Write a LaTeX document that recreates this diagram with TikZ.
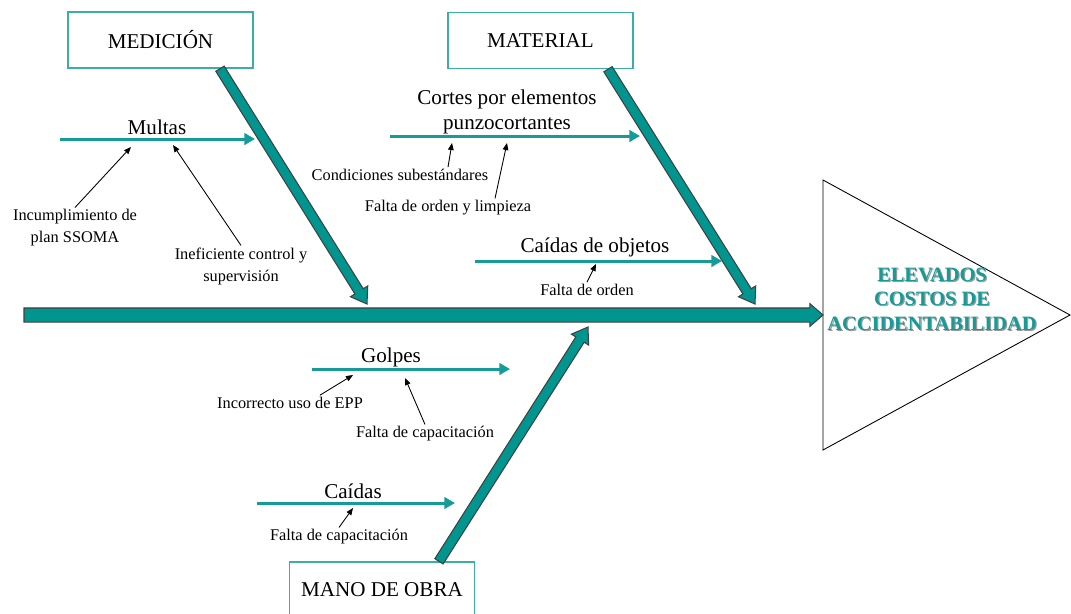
\documentclass[tikz,border=0pt]{standalone}
\usepackage{fontspec}
\setmainfont{Liberation Serif}
\usetikzlibrary{calc,arrows.meta}
\definecolor{bonefill}{RGB}{0,150,143}
\definecolor{twig}{RGB}{22,156,152}
\definecolor{frame}{RGB}{58,174,168}
\definecolor{effectteal}{RGB}{22,155,150}
\tikzstyle{catbox} = [rectangle, draw=frame, line width=0.8pt, fill=white,
minimum width=3.7cm, minimum height=1.12cm, font=\rmfamily\fontsize{12}{14}\selectfont]
\tikzstyle{branch} = [font=\rmfamily\fontsize{12}{14.2}\selectfont, align=center, inner sep=1pt]
\tikzstyle{reason} = [font=\rmfamily\fontsize{9.3}{12.5}\selectfont, align=center, inner sep=1pt]
\tikzstyle{twigline} = [draw=twig, line width=1.7pt, -{Triangle[length=6pt,width=6.5pt]}]
\tikzstyle{cause} = [draw, line width=0.5pt, -{Triangle[length=4pt,width=3.2pt]}]
\tikzset{fat arrow/.style n args={3}{to path={
  let \p1=($(\tikztotarget)-(\tikztostart)$), \n1={atan2(\y1,\x1)} in
  ($(\tikztostart)+(\n1+90:#1)$)
  -- ($(\tikztotarget)+(\n1+180:#3)+(\n1+90:#1)$)
  -- ($(\tikztotarget)+(\n1+180:#3)+(\n1+90:#2)$)
  -- (\tikztotarget)
  -- ($(\tikztotarget)+(\n1+180:#3)+(\n1-90:#2)$)
  -- ($(\tikztotarget)+(\n1+180:#3)+(\n1-90:#1)$)
  -- ($(\tikztostart)+(\n1-90:#1)$) -- cycle}}}
\tikzstyle{bone} = [fill=bonefill, draw=black!75, line width=0.6pt, fat arrow={2.8pt}{5.8pt}{8.5pt}]
\tikzstyle{spine} = [fill=bonefill, draw=black!75, line width=0.6pt, fat arrow={4pt}{6.5pt}{7.5pt}]

\begin{document}
\begin{tikzpicture}[x=0.02cm, y=-0.02cm]
\useasboundingbox (0,0) rectangle (1071,613);
% Place nodes
\node [catbox] (med) at (160.5,40) {MEDICIÓN};
\node [catbox] (mat) at (540.5,40.5) {MATERIAL};
\coordinate (medtop) at ([xshift=1.19cm]med.south);
\coordinate (mattop) at ([xshift=1.35cm]mat.south);
\coordinate (medtip) at (367,304);
\coordinate (mattip) at (755,304);
\coordinate (manotip) at (588,327);
\coordinate (tail) at (24,315);
\coordinate (headL) at (823,315);
\coordinate (triT) at (823,180);
\coordinate (triB) at (823,450);
\coordinate (triR) at (1070,315);
% effect head
\draw [line width=0.5pt] (triT) -- (triR) -- (triB) -- cycle;
\node [font=\rmfamily\fontsize{11.6}{14}\selectfont\bfseries, align=center, text=black!40]
  (effectshadow) at ([shift={(0.7pt,-0.7pt)}]932,299) {ELEVADOS\\COSTOS DE\\ACCIDENTABILIDAD};
\node [font=\rmfamily\fontsize{11.6}{14}\selectfont\bfseries, align=center, text=effectteal]
  (effect) at (932,299) {ELEVADOS\\COSTOS DE\\ACCIDENTABILIDAD};
% sub-causes
\coordinate (multasS) at (60,139);   \coordinate (multasE) at (255,139);
\coordinate (cortesS) at (390,136);  \coordinate (cortesE) at (640,136);
\coordinate (objetosS) at (475,261); \coordinate (objetosE) at (722,261);
\coordinate (golpesS) at (312,369);  \coordinate (golpesE) at (510,369);
\coordinate (caidasS) at (257,503);  \coordinate (caidasE) at (455,503);
\node [branch] (multas) at (157,127) {Multas};
\node [branch] (cortes) at (507,112) {Cortes por elementos\\punzocortantes};
\node [branch] (objetos) at (595,247) {Caídas de objetos};
\node [branch] (golpes) at (391,357) {Golpes};
\node [branch] (caidas) at (353,491) {Caídas};
\node [reason] (incump) at (75,228) {Incumplimiento de\\plan SSOMA};
\node [reason] (inef) at (241,266) {Ineficiente control y\\supervisión};
\node [reason] (cond) at (400,175) {Condiciones subestándares};
\node [reason] (limp) at (448,208) {Falta de orden y limpieza};
\node [reason] (orden) at (587,290) {Falta de orden};
\node [reason] (epp) at (290,403) {Incorrecto uso de EPP};
\node [reason] (capG) at (425,434) {Falta de capacitación};
\node [reason] (capC) at (339,537) {Falta de capacitación};
\coordinate (multasA) at (131,147);  \coordinate (multasB) at (173,145);
\coordinate (cortesA) at (452,143);  \coordinate (cortesB) at (507,143);
\coordinate (objetosA) at (596,264);
\coordinate (golpesA) at (353,375);  \coordinate (golpesB) at (405,378);
\coordinate (caidasA) at (353,508);
% Draw edges
\path [spine] (tail) to (headL);
\path [bone] (medtop) to (medtip);
\path [bone] (mattop) to (mattip);
\node [catbox] (mano) at (382,590) {MANO DE OBRA};
\coordinate (manotop) at ([xshift=1.14cm]mano.north);
\path [bone] (manotop) to (manotip);
\path [twigline] (multasS) -- (multasE);
\path [twigline] (cortesS) -- (cortesE);
\path [twigline] (objetosS) -- (objetosE);
\path [twigline] (golpesS) -- (golpesE);
\path [twigline] (caidasS) -- (caidasE);
\path [cause] (incump.north) -- (multasA);
\path [cause] (inef.north) -- (multasB);
\path [cause] ([xshift=0.96cm]cond.north) -- (cortesA);
\path [cause] ([xshift=0.94cm]limp.north) -- (cortesB);
\path [cause] (orden.north) -- (objetosA);
\path [cause] ([xshift=0.6cm]epp.north) -- (golpesA);
\path [cause] (capG.north) -- (golpesB);
\path [cause] (capC.north) -- (caidasA);
\end{tikzpicture}
\end{document}
